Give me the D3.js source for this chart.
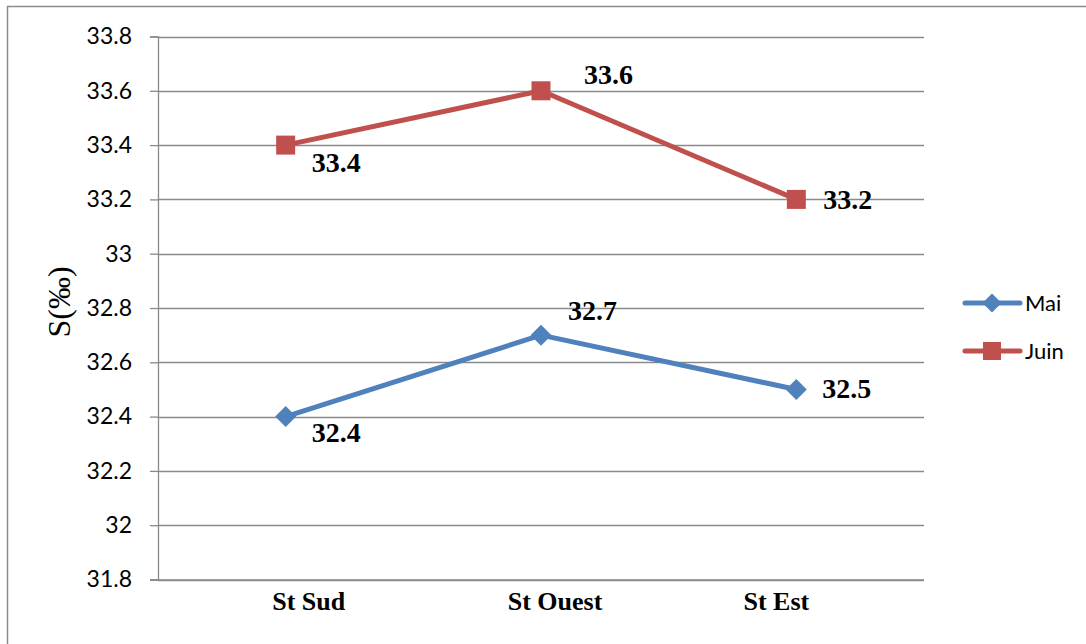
<!DOCTYPE html>
<html>
<head>
<meta charset="utf-8">
<script src="https://cdn.jsdelivr.net/npm/d3@7/dist/d3.min.js"></script>
<style>
  html, body { margin: 0; padding: 0; background: #fff; }
  svg { display: block; }
</style>
</head>
<body>
<svg id="chart" width="1086" height="644"></svg>
<script>
// Salinity by station, May and June
const stations = ["St Sud", "St Ouest", "St Est"];
const maiValues = [32.4, 32.7, 32.5];
const juinValues = [33.4, 33.6, 33.2];
const seriesNames = ["Mai", "Juin"];
const yTicks = [31.8, 32, 32.2, 32.4, 32.6, 32.8, 33, 33.2, 33.4, 33.6, 33.8];
const yTitle = "S(‰)";

// label placement relative to each point: [dx, dy]
const maiLabelOffsets = [[26, 25], [27, -15], [26, 9]];
const juinLabelOffsets = [[26, 27], [43, -7], [27, 10]];
const categoryLabelShift = [23, 14, -20];

const colors = { Mai: "#4F81BD", Juin: "#C0504D" };
const gridColor = "#8a8a8a";
const tickFont = "Lato, 'Open Sans', sans-serif";
const serifFont = "'Liberation Serif', 'Times New Roman', serif";

// square turned 45 degrees, r = half diagonal
const diamond = r => `M0,${-r}L${r},0L0,${r}L${-r},0Z`;
const square = h => `M${-h},${-h}H${h}V${h}H${-h}Z`;

const svg = d3.select("#chart");

// outer frame (only its top and left edges fall inside the view)
svg.append("rect")
  .attr("x", 7.5).attr("y", 6.5)
  .attr("width", 1200).attr("height", 800)
  .attr("fill", "none").attr("stroke", "#8c8c8c").attr("stroke-width", 1.5);

const plot = { left: 158, right: 924, top: 36.5, bottom: 579.5 };

const x = d3.scaleBand().domain(stations).range([plot.left, plot.right]);
const y = d3.scaleLinear().domain([31.8, 33.8]).range([plot.bottom, plot.top]);
const cx = d => x(d) + x.bandwidth() / 2;

// horizontal gridlines
svg.append("g")
  .selectAll("line")
  .data(yTicks)
  .join("line")
  .attr("x1", plot.left).attr("x2", plot.right)
  .attr("y1", d => Math.round(y(d)) + 0.5).attr("y2", d => Math.round(y(d)) + 0.5)
  .attr("stroke", gridColor).attr("stroke-width", 1.3);

// y axis
const yAxis = svg.append("g")
  .attr("transform", `translate(${plot.left},0)`)
  .call(d3.axisLeft(y).tickValues(yTicks).tickSize(8).tickPadding(18)
    .tickFormat(d => String(d)));
yAxis.select(".domain").attr("stroke", gridColor).attr("stroke-width", 1.3);
yAxis.selectAll(".tick line").attr("stroke", gridColor).attr("stroke-width", 1.3);
yAxis.selectAll(".tick text")
  .attr("font-family", tickFont).attr("font-size", 23).attr("fill", "#000");

// x axis
const xAxis = svg.append("g")
  .attr("transform", `translate(0,${plot.bottom})`)
  .call(d3.axisBottom(x).tickSize(0).tickPadding(12));
xAxis.select(".domain")
  .attr("d", `M${plot.left - 8},0.5H${plot.right}`)
  .attr("stroke", gridColor).attr("stroke-width", 1.3);
xAxis.selectAll(".tick text")
  .attr("font-family", serifFont).attr("font-weight", "bold")
  .attr("font-size", 26).attr("fill", "#000")
  .attr("dy", "0.71em")
  .attr("dx", (d, i) => categoryLabelShift[i]);

// y axis title
svg.append("text")
  .attr("transform", "translate(70,302) rotate(-90)")
  .attr("text-anchor", "middle")
  .attr("font-family", serifFont).attr("font-size", 32)
  .attr("fill", "#000")
  .text(yTitle);

const line = d3.line().x(d => cx(d.station)).y(d => y(d.value));

const series = [
  { name: "Mai", values: maiValues, offsets: maiLabelOffsets, marker: diamond(10.5) },
  { name: "Juin", values: juinValues, offsets: juinLabelOffsets, marker: square(9.5) }
];

series.forEach(s => {
  const pts = stations.map((st, i) => ({ station: st, value: s.values[i], off: s.offsets[i] }));
  svg.append("path")
    .datum(pts)
    .attr("d", line)
    .attr("fill", "none")
    .attr("stroke", colors[s.name])
    .attr("stroke-width", 5)
    .attr("stroke-linejoin", "round");
  svg.append("g").selectAll("path")
    .data(pts)
    .join("path")
    .attr("transform", d => `translate(${cx(d.station)},${y(d.value)})`)
    .attr("d", s.marker)
    .attr("fill", colors[s.name]);
  svg.append("g").selectAll("text")
    .data(pts)
    .join("text")
    .attr("x", d => cx(d.station) + d.off[0])
    .attr("y", d => y(d.value) + d.off[1])
    .attr("font-family", serifFont).attr("font-weight", "bold")
    .attr("font-size", 28).attr("fill", "#000")
    .text(d => d.value.toFixed(1));
});

// legend
const legend = svg.append("g");
const legendRows = [{ name: seriesNames[0], y: 303, marker: diamond(9.5) },
                    { name: seriesNames[1], y: 351, marker: square(9) }];
legendRows.forEach(r => {
  legend.append("line")
    .attr("x1", 965).attr("x2", 1020)
    .attr("y1", r.y).attr("y2", r.y)
    .attr("stroke", colors[r.name]).attr("stroke-width", 5)
    .attr("stroke-linecap", "round");
  legend.append("path")
    .attr("transform", `translate(992,${r.y})`)
    .attr("d", r.marker)
    .attr("fill", colors[r.name]);
  legend.append("text")
    .attr("x", 1025).attr("y", r.y + 8)
    .attr("font-family", tickFont).attr("font-size", 22)
    .attr("fill", "#000")
    .text(r.name);
});
</script>
</body>
</html>
